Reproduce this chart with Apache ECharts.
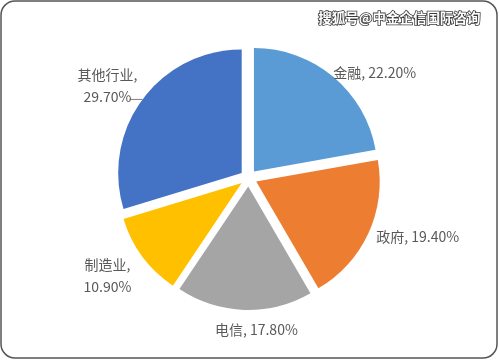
<!DOCTYPE html>
<html>
<head>
<meta charset="utf-8">
<script src="https://cdn.jsdelivr.net/npm/echarts@6/dist/echarts.min.js"></script>
<style>
  html, body { margin: 0; padding: 0; background: #fff; }
  #chart { width: 499px; height: 360px; }
</style>
</head>
<body>
<div id="chart"></div>
<script>
// Industry share of revenue (%)
const categories = ['金融', '政府', '电信', '制造业', '其他行业'];
const shares = [22.2, 19.4, 17.8, 10.9, 29.7];
const colors = ['#5B9BD5', '#ED7D31', '#A5A5A5', '#FFC000', '#4472C4'];

// Per-label placement tweaks (offsets from the default outside anchor)
const labelTweaks = [
  { dx: 0, dy: -4 },
  { dx: 8, dy: 3 },
  { align: 'center', verticalAlign: 'middle', dx: 12, dy: 20 },
  { align: 'center', verticalAlign: 'middle', dx: -35, dy: 19, wrap: true },
  { align: 'center', verticalAlign: 'bottom', dx: -22, dy: 8, wrap: true, leader: true }
];

const chart = echarts.init(document.getElementById('chart'), null, { renderer: 'canvas' });

const pieData = categories.map((name, i) => ({
  name: name,
  value: shares[i],
  selected: true,
  itemStyle: { color: colors[i] },
  labelLine: labelTweaks[i].leader
    ? { show: true, length: 0, length2: 13, lineStyle: { color: '#7f7f7f', width: 1 } }
    : { show: false }
}));

chart.setOption({
  animation: false,
  backgroundColor: '#ffffff',
  title: {
    text: '搜狐号@中金企信国际咨询',
    right: 12,
    top: 6,
    textStyle: {
      fontFamily: '"Noto Sans CJK SC", sans-serif',
      fontSize: 13.5,
      fontWeight: 'bold',
      color: '#ffffff',
      textBorderColor: '#3a3a3a',
      textBorderWidth: 1.6
    }
  },
  graphic: [{
    type: 'rect',
    shape: { x: 1, y: 1, width: 496, height: 357, r: 14 },
    style: { fill: 'none', stroke: '#555555', lineWidth: 1.5 },
    silent: true,
    z: -1
  }],
  series: [{
    type: 'pie',
    center: [248.5, 178],
    radius: 123.5,
    startAngle: 90,
    clockwise: true,
    selectedMode: 'multiple',
    selectedOffset: 8.5,
    avoidLabelOverlap: false,
    emphasis: { disabled: true },
    itemStyle: { borderWidth: 0 },
    label: {
      show: true,
      position: 'outside',
      distanceToLabelLine: 0,
      color: '#595959',
      fontSize: 14,
      lineHeight: 22,
      fontFamily: '"Noto Sans CJK SC", "Noto Sans", sans-serif',
      formatter: p => {
        const sep = labelTweaks[p.dataIndex].wrap ? ',\n' : ', ';
        return p.name + sep + p.value.toFixed(2) + '%';
      }
    },
    labelLine: { show: false, length: 0, length2: 0 },
    labelLayout: params => {
      const t = labelTweaks[params.dataIndex];
      const out = { dx: t.dx, dy: t.dy };
      if (t.align) out.align = t.align;
      if (t.verticalAlign) out.verticalAlign = t.verticalAlign;
      return out;
    },
    data: pieData
  }]
});
</script>
</body>
</html>
